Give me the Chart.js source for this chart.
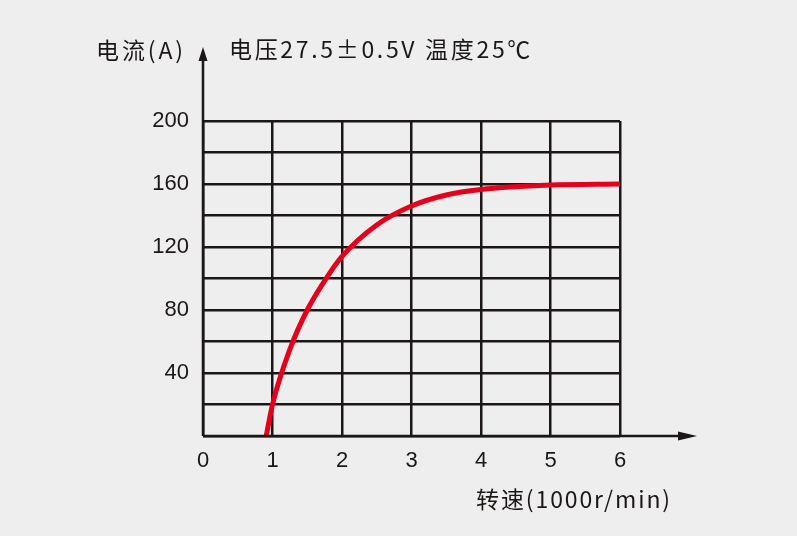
<!DOCTYPE html>
<html lang="zh">
<head>
  <meta charset="UTF-8" />
  <title>电流-转速曲线</title>
  <script src="https://cdn.jsdelivr.net/npm/chart.js"></script>
  <style>
    html, body { margin: 0; padding: 0; background: #eeeeee; }
    #wrap { position: relative; width: 797px; height: 536px; }
  </style>
</head>
<body>
  <div id="wrap"><canvas id="curveChart" width="797" height="536"></canvas></div>

  <script>
    // speed in 1000 r/min, current in A
    const speedK = [0.91, 1.0, 1.25, 1.5, 1.75, 2.0, 2.5, 3, 3.5, 4, 5, 6];
    const currentA = [0, 20, 55, 80, 98.5, 114, 134, 146, 153, 156.5, 159.3, 160];
    const xTickLabels = [0, 1, 2, 3, 4, 5, 6];
    const yTickLabels = [40, 80, 120, 160, 200];

    const yTitle = "电流(A)";
    const topNote = "电压27.5±0.5V 温度25℃";
    const xTitle = "转速(1000r/min)";

    const ink = "#1b1716";
    const cjkFont = '"Noto Sans CJK SC", "Noto Sans", sans-serif';

    function fitText(ctx, text, x, y, width) {
      ctx.letterSpacing = "0px";
      const w = ctx.measureText(text).width;
      const ls = Math.max(0, (width - w) / text.length);
      ctx.letterSpacing = ls + "px";
      ctx.fillText(text, x, y);
      ctx.letterSpacing = "0px";
    }

    const axisArrows = {
      id: "axisArrows",
      afterDraw(chart) {
        const ctx = chart.ctx;
        const a = chart.chartArea;
        ctx.save();
        ctx.strokeStyle = ink;
        ctx.fillStyle = ink;
        ctx.lineWidth = 2.5;
        // y axis up to arrow
        ctx.beginPath();
        ctx.moveTo(a.left, a.bottom);
        ctx.lineTo(a.left, 58);
        ctx.stroke();
        ctx.beginPath();
        ctx.moveTo(a.left, 47);
        ctx.lineTo(a.left - 4.5, 61);
        ctx.lineTo(a.left + 4.5, 61);
        ctx.closePath();
        ctx.fill();
        // x axis out to arrow
        ctx.beginPath();
        ctx.moveTo(a.left, a.bottom);
        ctx.lineTo(682, a.bottom);
        ctx.stroke();
        ctx.beginPath();
        ctx.moveTo(697, a.bottom);
        ctx.lineTo(678, a.bottom - 4.5);
        ctx.lineTo(678, a.bottom + 4.5);
        ctx.closePath();
        ctx.fill();

        ctx.font = "23px " + cjkFont;
        ctx.textBaseline = "middle";
        ctx.textAlign = "left";
        fitText(ctx, yTitle, 96, 50, 90);
        fitText(ctx, topNote, 229, 49, 304);
        fitText(ctx, xTitle, 476, 499, 196);
        ctx.restore();
      }
    };

    const ctx = document.getElementById("curveChart").getContext("2d");
    new Chart(ctx, {
      type: "line",
      data: {
        datasets: [{
          label: "电流",
          data: speedK.map((s, i) => ({ x: s, y: currentA[i] })),
          borderColor: "#e5001b",
          borderWidth: 5,
          pointRadius: 0,
          fill: false,
          cubicInterpolationMode: "monotone"
        }]
      },
      options: {
        responsive: false,
        animation: false,
        layout: { padding: { left: 143, right: 177, top: 121, bottom: 60 } },
        plugins: { legend: { display: false }, tooltip: { enabled: false } },
        scales: {
          x: {
            type: "linear",
            min: 0,
            max: 6,
            afterFit(scale) { scale.height = 40; },
            border: { display: false },
            grid: { color: ink, lineWidth: 2.5, drawTicks: false },
            ticks: {
              stepSize: 1,
              padding: 12,
              color: ink,
              font: { family: '"Liberation Sans", Arial, sans-serif', size: 22 },
              callback: (v) => xTickLabels.includes(v) ? String(v) : ""
            }
          },
          y: {
            min: 0,
            max: 200,
            afterFit(scale) { scale.width = 60; },
            border: { display: false },
            grid: { color: ink, lineWidth: 2.5, drawTicks: false },
            ticks: {
              stepSize: 20,
              padding: 14,
              color: ink,
              font: { family: '"Liberation Sans", Arial, sans-serif', size: 22 },
              callback: (v) => yTickLabels.includes(v) ? String(v) : ""
            }
          }
        }
      },
      plugins: [axisArrows]
    });
  </script>
</body>
</html>
